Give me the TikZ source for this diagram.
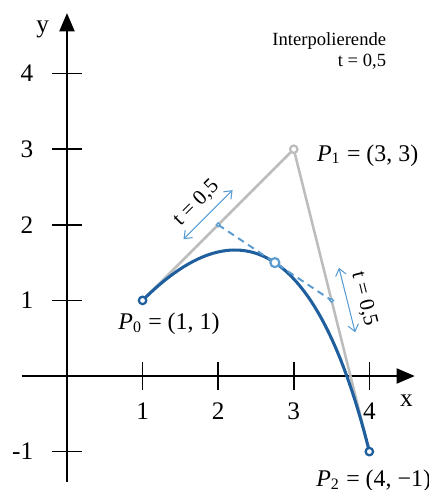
\documentclass[tikz,border=0pt]{standalone}
\usepackage{fontspec}
\setmainfont{Liberation Serif}
\usepackage{xcolor}
\usetikzlibrary{arrows.meta}
\usetikzlibrary{calc, positioning}

\definecolor{curveblue}{HTML}{1F5F9E}
\definecolor{helpblue}{HTML}{5A9BD0}
\definecolor{polygray}{HTML}{BDBDBD}

\begin{document}
\begin{tikzpicture}[
    axis/.style={line width=0.6pt, -{Triangle[length=2.4mm, width=2mm]}},
    tick/.style={line width=0.6pt},
    ticklabel/.style={font=\fontsize{9.5}{11}\selectfont, inner sep=0pt},
    ptlabel/.style={font=\fontsize{9}{11}\selectfont, anchor=west},
    smalltext/.style={font=\fontsize{7}{8}\selectfont},
    spanlabel/.style={font=\fontsize{8}{9}\selectfont, inner sep=1pt},
    polygon/.style={polygray, line width=0.95pt},
    bezier/.style={curveblue, line width=1.15pt},
    helper/.style={helpblue, line width=0.75pt, dash pattern=on 2.6pt off 1.9pt},
    span/.style={helpblue, line width=0.4pt,
      {Straight Barb[length=0.9mm, width=1.4mm]}-{Straight Barb[length=0.9mm, width=1.4mm]}},
    ring/.style={circle, draw, fill=white, inner sep=0pt, minimum size=2.8pt, line width=0.85pt},
  ]
  \useasboundingbox (-0.886,-1.508) rectangle (4.788,4.974);

  % axes
  \coordinate (xmin) at (-0.6,0);
  \coordinate (xmax) at (4.6,0);
  \coordinate (ymin) at (0,-1.4);
  \coordinate (ymax) at (0,4.8);
  \draw[axis] (xmin) -- (xmax);
  \draw[axis] (ymin) -- (ymax);
  \node[ticklabel] (xlab) at (4.49,-0.33) {x};
  \node[ticklabel] (ylab) at (-0.32,4.58) {y};
  \foreach \k in {1,...,4} {
    \draw[tick] (\k,-0.185) -- (\k,0.185);
    \node[ticklabel] (xl\k) at (\k,-0.47) {\k};
  }
  \foreach \k in {-1,1,2,3,4} {
    \draw[tick] (-0.2,\k) -- (0.2,\k);
    \node[ticklabel, anchor=east] (yl\k) at (-0.44,\k) {\k};
  }

  % control points, midpoints, point on the curve
  \coordinate (P0) at (1,1);
  \coordinate (P1) at (3,3);
  \coordinate (P2) at (4,-1);
  \coordinate (M01) at ($(P0)!0.5!(P1)$);
  \coordinate (M12) at ($(P1)!0.5!(P2)$);
  \coordinate (B) at ($(M01)!0.5!(M12)$);
  \coordinate (C1) at ($(P0)!2/3!(P1)$);
  \coordinate (C2) at ($(P2)!2/3!(P1)$);

  % control polygon and curve
  \draw[polygon] (P0) -- (P1) -- (P2);
  \draw[bezier] (P0) .. controls (C1) and (C2) .. (P2);
  \draw[helper] (M01) -- (M12);

  % t = 0,5 markers
  \coordinate (s1a) at (1.541,1.809);
  \coordinate (s1b) at (2.191,2.459);
  \coordinate (s2a) at (3.598,1.432);
  \coordinate (s2b) at (3.812,0.578);
  \draw[span] (s1a) -- (s1b);
  \draw[span] (s2a) -- (s2b);
  \node[spanlabel, rotate=45] (t1) at (1.71,2.29) {t = 0,5};
  \node[spanlabel, rotate=-76] (t2) at (3.93,1.02) {t = 0,5};

  % points
  \node[ring, draw=curveblue] (r0) at (P0) {};
  \node[ring, draw=polygray] (r1) at (P1) {};
  \node[ring, draw=curveblue] (r2) at (P2) {};
  \node[ring, draw=helpblue, minimum size=3.4pt, line width=0.8pt] (rB) at (B) {};
  \node[ring, draw=helpblue, minimum size=1.4pt, line width=0.5pt] (rM1) at (M01) {};
  \node[ring, draw=helpblue, minimum size=1.4pt, line width=0.5pt] (rM2) at (M12) {};

  \node[ptlabel] (L0) at (0.556,0.69) {\textit{P}\textsubscript{0} = (1, 1)};
  \node[ptlabel] (L1) at (3.185,2.92) {\textit{P}\textsubscript{1} = (3, 3)};
  \node[ptlabel] (L2) at (3.175,-1.39) {\textit{P}\textsubscript{2} = (4, −1)};

  \node[smalltext, align=right] (title) at (3.47,4.30) {Interpolierende\\t = 0,5};
\end{tikzpicture}
\end{document}
